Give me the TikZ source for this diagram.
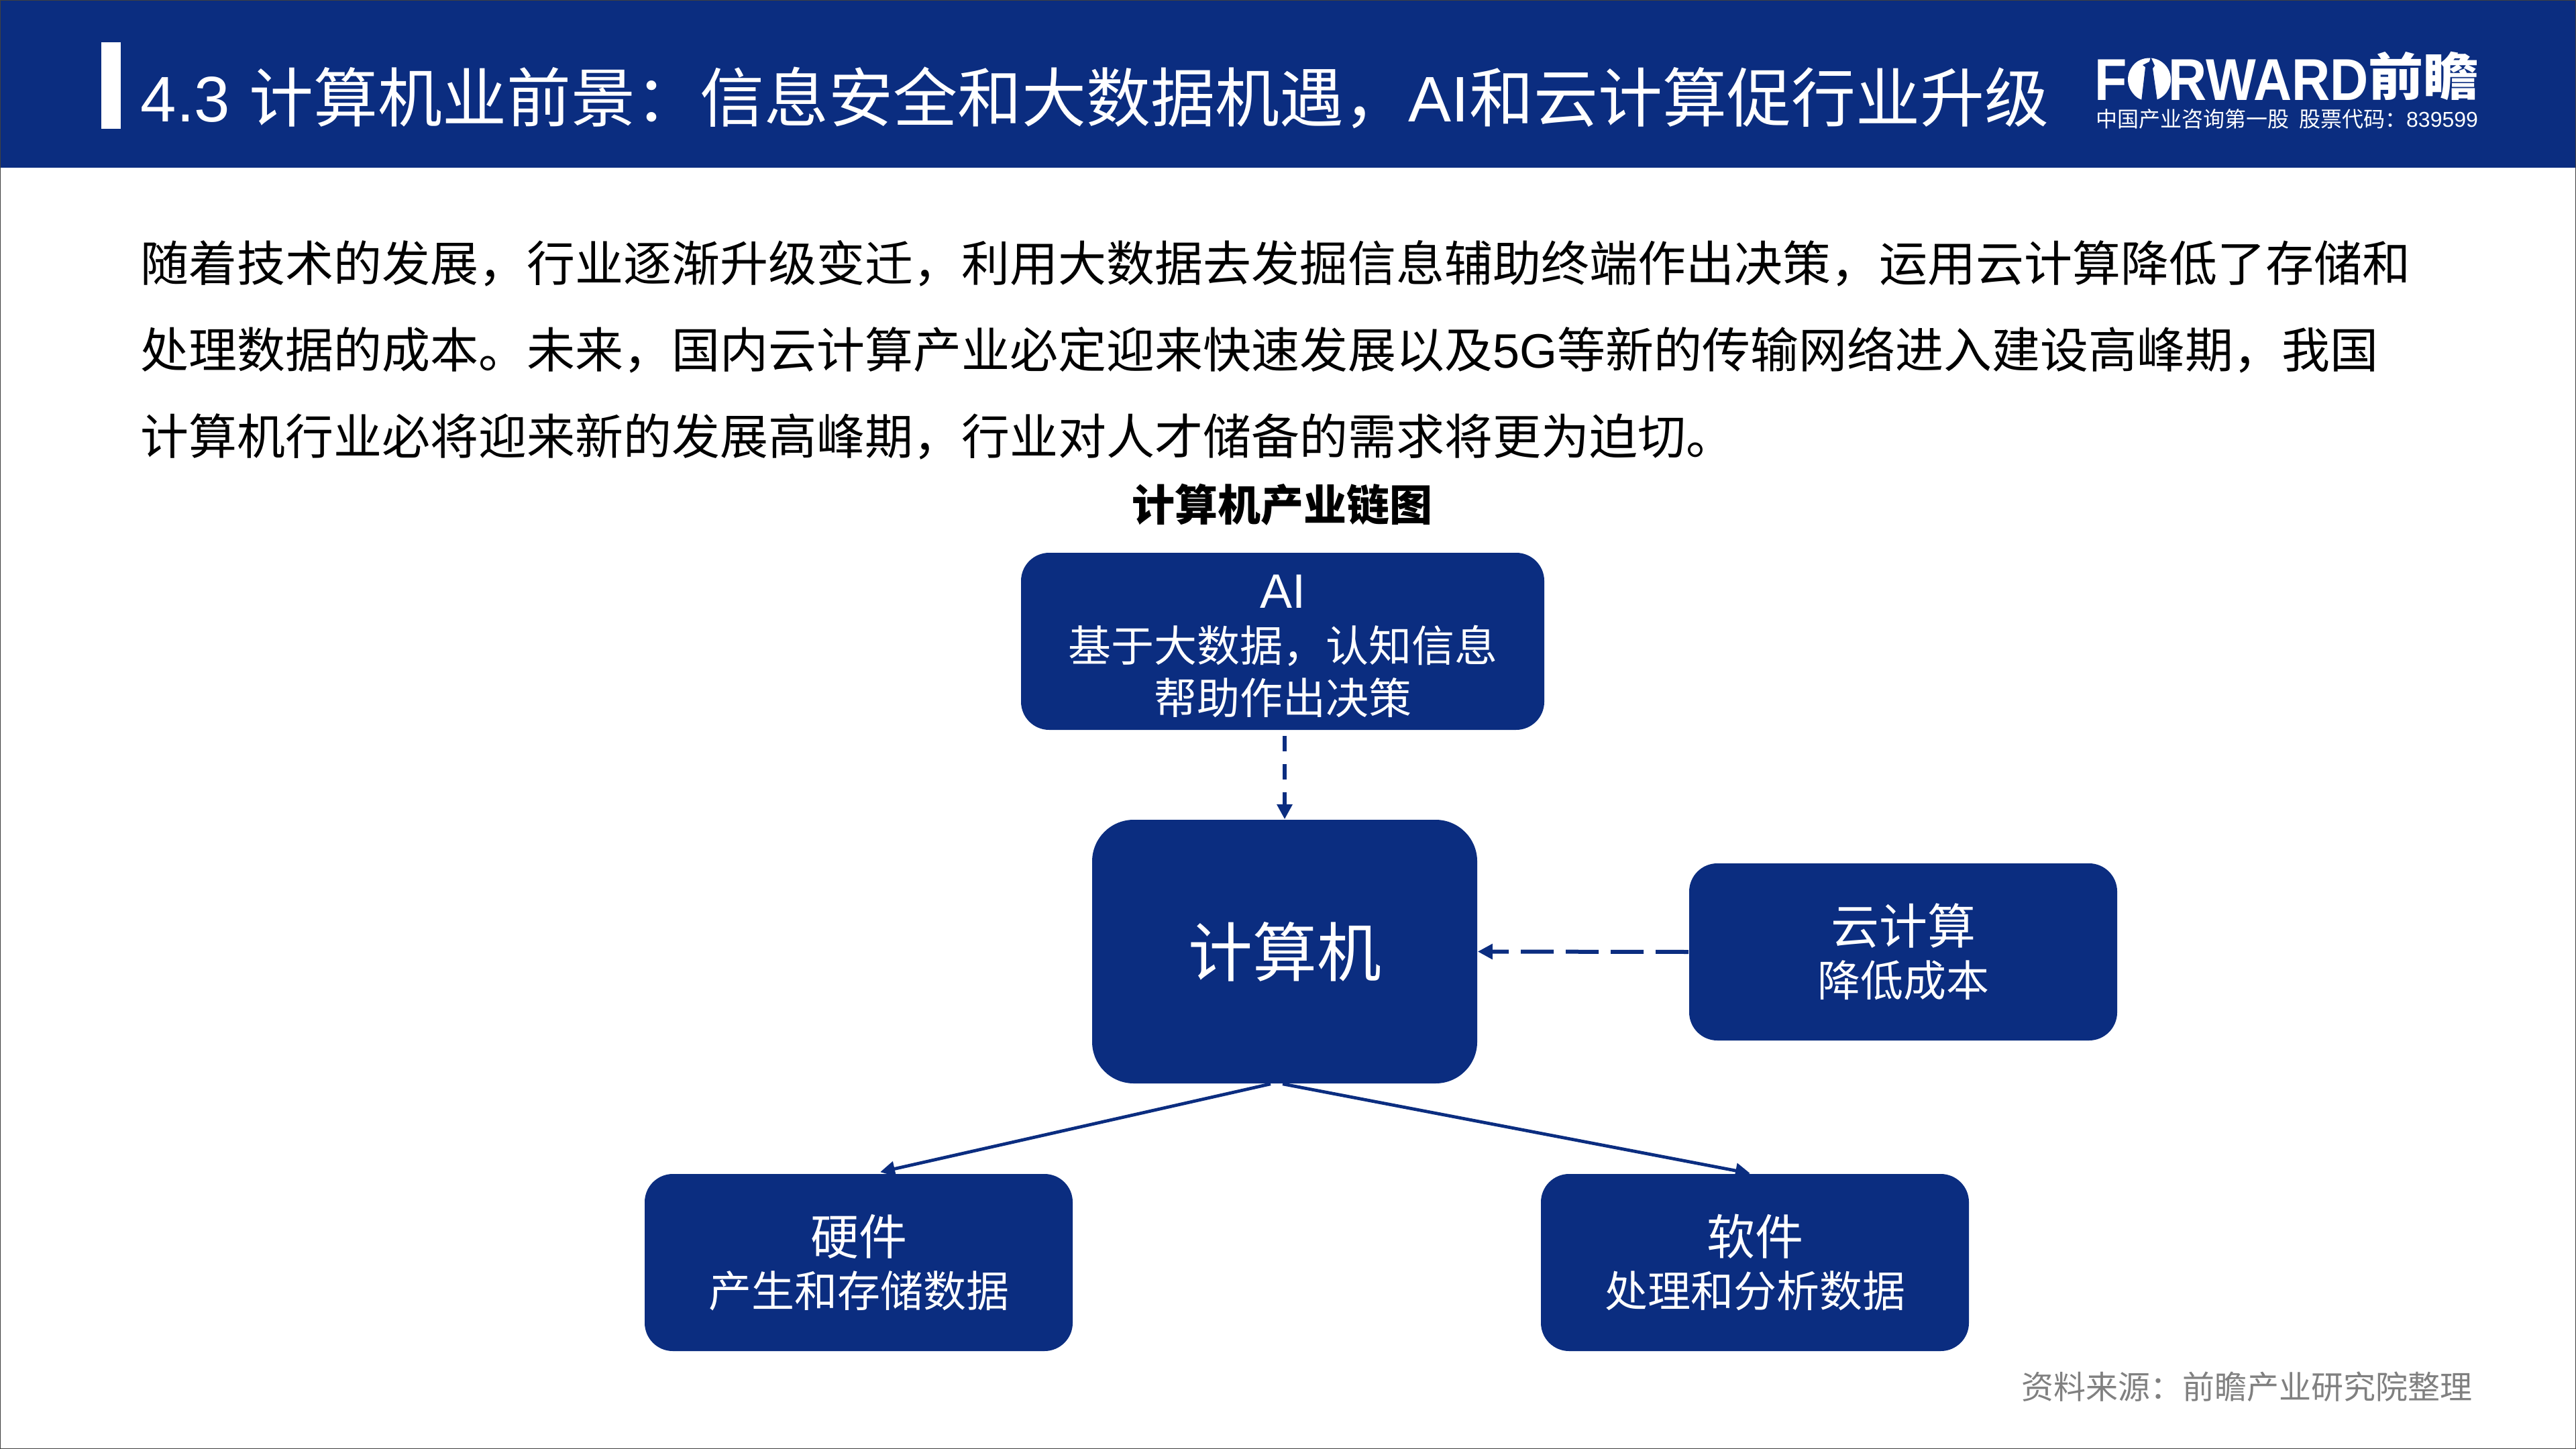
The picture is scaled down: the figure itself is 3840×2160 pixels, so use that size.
\documentclass[tikz,border=0pt]{standalone}
\usepackage{fontspec}
\usetikzlibrary{arrows.meta,calc}
\setmainfont{Noto Sans CJK SC}
\newfontfamily\lat{Liberation Sans}
\definecolor{navy}{HTML}{0B2D80}
\newcommand\szt{\fontsize{24pt}{30pt}\selectfont}
\newcommand\szh{\fontsize{18pt}{20.5pt}\selectfont}
\newcommand\szb{\fontsize{16pt}{20pt}\selectfont}
\newcommand\fwcomma{^^^^ff0c}
\newcommand\fwcolon{^^^^ff1a}
\begin{document}
\begin{tikzpicture}[x=0.25pt,y=-0.25pt,
        cbox/.style={fill=navy,text=white,align=center,inner sep=0pt,rounded corners=10.5pt,minimum width=159.5pt,minimum height=66pt},
        lc/.style={anchor=base west,inner sep=0pt},
        link/.style={navy,line width=1.2pt,-{Triangle[length=5.5pt,width=5.5pt]}}]
    \useasboundingbox (0,0) rectangle (3840,2160);
    \fill[navy] (0,0) rectangle (3840,250);
    \fill[white] (151,63) rectangle (180,192);
    \node[lc,text=white,font=\szt] (title) at(209,182) {{\lat 4.3}\hspace{1.7pt} 计算机业前景\fwcolon 信息安全和大数据机遇\fwcomma {\lat AI}和云计算促行业升级};
    % logo
    \node[lc,text=white] (logo) at(3122,150) {\fontsize{22pt}{22pt}\lat\bfseries\scalebox{0.9}[1]{FORWARD}};
    \fill[white] (3204,118.5) circle (32);
    \fill[navy] (3192,151) -- (3198,100) -- (3194,97) -- (3204,92) -- (3206,85) -- (3212,98) -- (3209,102) -- (3216,151) -- cycle;
    \node[lc,text=white] (logocn) at(3530,143) {\fontsize{19pt}{19pt}\bfseries\scalebox{1.08}[1]{前瞻}};
    \node[lc,text=white] (slogan) at(3124,190) {\fontsize{8pt}{8pt}\selectfont 中国产业咨询第一股\ \ 股票代码\fwcolon{\lat 839599}};
    % text
    \foreach[count=\i] \t in {随着技术的发展\fwcomma 行业逐渐升级变迁\fwcomma 利用大数据去发掘信息辅助终端作出决策\fwcomma 运用云计算降低了存储和,
        处理数据的成本。未来\fwcomma 国内云计算产业必定迎来快速发展以及{\lat 5G}等新的传输网络进入建设高峰期\fwcomma 我国,
        计算机行业必将迎来新的发展高峰期\fwcomma 行业对人才储备的需求将更为迫切。} {
        \node[lc,font=\szh] (line\i) at(209,291+129*\i) {\t};
    }
    \node[font=\szb\bfseries,inner sep=0pt] (caption) at(1911,752) {计算机产业链图};
    \node[cbox,minimum width=195pt] (ai) at(1912,956) {\rule{0pt}{16pt}{\szh\lat AI}\\[5.5pt]\szb 基于大数据\fwcomma 认知信息\\[3.1pt]\szb 帮助作出决策};
    \node[cbox,rounded corners=15.5pt,minimum width=143.5pt,minimum height=98.25pt,font=\szt] (comp) at(1915,1418.5) {计算机};
    \foreach \n/\x/\y/\a/\b in {cloud/2837/1419/云计算/降低成本,hw/1280/1882/硬件/产生和存储数据,sw/2616/1882/软件/处理和分析数据} {
        \node[cbox] (\n) at(\x,\y) {\szh \a\\[3.7pt]\szb \b};
    }
    \draw[link,line width=1.5pt,dash pattern=on 5.75pt off 4.75pt,shorten <=2pt] (ai.south -| comp.north) -- (comp.north);
    \draw[link,line width=1.5pt,dash pattern=on 12.25pt off 4.5pt] (cloud.west) -- (comp.east);
    \draw[link] ([xshift=-5.25pt]comp.south) -- ([xshift=8pt,yshift=0.5pt]hw.north);
    \draw[link] ([xshift=-0.75pt]comp.south) -- ([xshift=-1.75pt]sw.north);
    \node[anchor=east,inner sep=0pt,text=black!50,font=\fontsize{12pt}{12pt}\selectfont] (source) at(3686,2067) {资料来源\fwcolon 前瞻产业研究院整理};
    \draw[black!75,line width=0.5pt] (0,0) rectangle (3840,2160);
\end{tikzpicture}
\end{document}
